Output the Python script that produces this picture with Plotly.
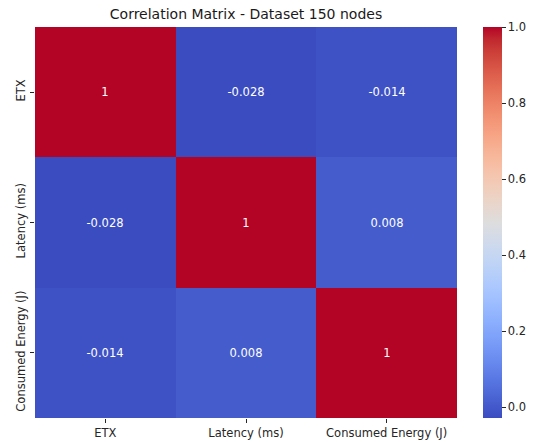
import plotly.graph_objects as go

labels = ["ETX", "Latency (ms)", "Consumed Energy (J)"]
corr = [
    [1.0, -0.028, -0.014],
    [-0.028, 1.0, 0.008],
    [-0.014, 0.008, 1.0],
]
cell_text = [
    ["1", "-0.028", "-0.014"],
    ["-0.028", "1", "0.008"],
    ["-0.014", "0.008", "1"],
]
title = "Correlation Matrix - Dataset 150 nodes"
cbar_ticks = [0.0, 0.2, 0.4, 0.6, 0.8, 1.0]

coolwarm_rgb = [
    (59,76,192),(68,90,204),(77,104,215),(87,117,225),(98,130,234),(108,142,241),
    (119,154,247),(130,165,251),(141,176,254),(152,185,255),(163,194,255),(174,201,253),
    (184,208,249),(194,213,244),(204,217,238),(213,219,230),(221,221,221),(229,216,209),
    (236,211,197),(241,204,185),(245,196,173),(247,187,160),(247,177,148),(247,166,135),
    (244,154,123),(241,141,111),(236,127,99),(229,112,88),(222,96,77),(213,80,66),
    (203,62,56),(192,40,47),(180,4,38),
]
n = len(coolwarm_rgb) - 1
colorscale = [[i / n, "rgb(%d,%d,%d)" % c] for i, c in enumerate(coolwarm_rgb)]

zmin = min(min(r) for r in corr)
zmax = max(max(r) for r in corr)

W, H = 538, 442
L, R, T, B = 35, 81, 27, 24
plot_w = W - L - R
FS = 11.5

fig = go.Figure(go.Heatmap(
    z=corr, x=labels, y=labels,
    text=cell_text, texttemplate="%{text}",
    textfont=dict(color="white", size=FS, family="DejaVu Sans"),
    colorscale=colorscale, zmin=zmin, zmax=zmax,
    xgap=0, ygap=0,
    colorbar=dict(
        x=(483 - L) / plot_w, xanchor="left", xref="paper",
        y=0, yanchor="bottom", len=1, lenmode="fraction",
        thickness=19, outlinewidth=0, xpad=0, ypad=0,
        tickvals=cbar_ticks, ticktext=["%.1f" % v for v in cbar_ticks],
        ticks="outside", ticklen=4, tickcolor="#262626",
        tickfont=dict(size=FS, color="#262626", family="DejaVu Sans"),
    ),
    hoverinfo="skip",
))

fig.update_layout(
    width=W, height=H,
    margin=dict(l=L, r=R, t=T, b=B, autoexpand=False),
    paper_bgcolor="white", plot_bgcolor="white",
    title=dict(text=title, x=(L + plot_w / 2) / W, xanchor="center",
               y=1 - 14 / H, yanchor="middle",
               font=dict(size=14, color="#1a1a1a", family="DejaVu Sans")),
    font=dict(family="DejaVu Sans", color="#262626"),
    xaxis=dict(ticks="outside", ticklen=4, tickcolor="#262626", showgrid=False,
               zeroline=False, showline=False, automargin=False,
               tickfont=dict(size=FS, color="#262626")),
    yaxis=dict(autorange="reversed", ticks="outside", ticklen=4, tickcolor="#262626",
               showgrid=False, zeroline=False, showline=False, tickangle=-90,
               automargin=False,
               tickfont=dict(size=FS, color="#262626")),
)

fig.write_html("out.html", config={"displayModeBar": False},
               post_script="document.body.style.margin='0';document.body.style.overflow='hidden';")
